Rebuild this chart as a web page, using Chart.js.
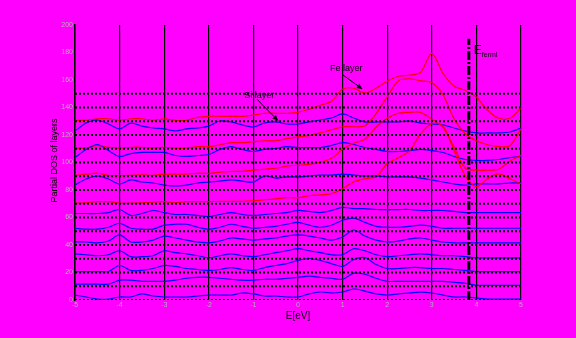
<!DOCTYPE html>
<html>
<head>
<meta charset="utf-8">
<script src="https://cdn.jsdelivr.net/npm/chart.js@4.4.1/dist/chart.umd.min.js"></script>
<style>
  html, body { margin: 0; padding: 0; background: #ff00ff; }
</style>
</head>
<body>
<canvas id="dosChart" width="576" height="338"></canvas>
<script>
// energy grid (eV)
const energy = [-5, -4.75, -4.5, -4.25, -4, -3.75, -3.5, -3.25, -3, -2.75, -2.5, -2.25, -2, -1.75, -1.5, -1.25,
  -1, -0.75, -0.5, -0.25, 0, 0.25, 0.5, 0.75, 1, 1.25, 1.5, 1.75, 2, 2.25, 2.5, 2.75, 3, 3.25, 3.5, 3.75,
  4, 4.25, 4.5, 4.75, 5];

// baseline of every layer (dotted lines)
const baselines = [0, 10, 20, 30, 40, 50, 60, 70, 80, 90, 100, 110, 120, 130, 140, 150];

const yTicks = [0, 20, 40, 60, 80, 100, 120, 140, 160, 180, 200];
const xTicks = [-5, -4, -3, -2, -1, 0, 1, 2, 3, 4, 5];

const eFermi = 3.83;
const fermiTop = 190;

// partial DOS of each layer, above its own baseline
const layer0 = [3.6, 2.2, 0.7, 0.7, 2.2, 2.2, 4.4, 2.9, 2.2, 2.2, 2.2, 2.9, 3.6, 3.6, 3.6, 5.1, 4.4, 2.9, 2.9, 2.2,
  2.2, 4.4, 5.8, 5.1, 5.8, 8.0, 6.5, 4.4, 3.6, 4.4, 5.1, 5.8, 5.1, 3.6, 2.2, 2.2, 1.5, 0.7, 0.7, 0.7, 0.7];
const layer1 = [1.5, 1.5, 1.5, 1.5, 4.4, 4.4, 3.6, 3.6, 3.6, 4.4, 5.8, 6.5, 6.5, 5.8, 5.1, 4.4, 4.4, 5.1, 5.1, 5.8,
  6.5, 7.3, 6.5, 5.8, 5.1, 9.5, 8.7, 5.8, 3.6, 3.6, 3.6, 3.6, 3.6, 3.6, 2.9, 2.2, 0.7, 0.7, 0.7, 0.7, 0.7];
const layer2 = [0.7, 0.7, 0.7, 0.7, 5.1, 1.5, 1.5, 2.9, 5.1, 4.4, 2.9, 2.2, 1.5, 2.2, 3.6, 2.2, 1.5, 3.6, 5.1, 6.5,
  8.7, 10.2, 8.7, 6.5, 4.4, 9.5, 10.9, 5.8, 2.9, 2.9, 3.6, 3.6, 2.9, 2.9, 2.2, 1.5, 0.7, 0.7, 0.7, 0.7, 0.7];
const layer3 = [3.6, 2.9, 2.2, 2.9, 5.8, 1.5, 1.5, 2.2, 5.8, 4.4, 3.6, 2.2, 0.7, 2.2, 3.6, 2.2, 1.5, 2.9, 4.4, 5.8,
  7.3, 5.8, 4.4, 2.9, 2.9, 7.3, 5.8, 2.9, 1.5, 2.2, 2.9, 3.6, 2.9, 2.2, 2.2, 1.5, 0.7, 0.7, 0.7, 0.7, 0.7];
const layer4 = [2.2, 2.2, 1.5, 2.9, 7.3, 2.2, 2.2, 3.6, 6.5, 5.1, 3.6, 2.2, 1.5, 2.9, 5.1, 4.4, 3.6, 4.4, 5.1, 6.5,
  7.3, 6.5, 5.1, 3.6, 5.8, 10.9, 6.5, 3.6, 2.2, 2.9, 4.4, 5.1, 3.6, 2.2, 1.5, 1.5, 1.5, 1.5, 1.5, 1.5, 1.5];
const layer5 = [2.2, 1.5, 1.5, 2.9, 5.8, 2.2, 1.5, 1.5, 4.4, 5.1, 5.1, 2.9, 1.5, 2.9, 5.1, 3.6, 2.2, 2.9, 3.6, 5.1,
  6.5, 4.4, 2.9, 4.4, 8.0, 9.5, 6.5, 3.6, 2.9, 2.9, 3.6, 4.4, 3.6, 2.2, 2.2, 2.2, 2.2, 2.2, 2.2, 2.2, 2.2];
const layer6 = [2.9, 2.9, 2.9, 3.6, 5.8, 1.5, 2.9, 5.1, 3.6, 2.2, 2.2, 1.5, 0.7, 2.2, 3.6, 2.2, 1.5, 2.2, 2.9, 3.6,
  5.1, 4.4, 3.6, 5.1, 7.3, 6.5, 6.5, 5.8, 5.8, 5.8, 5.8, 5.1, 5.1, 5.1, 4.4, 3.6, 3.6, 3.6, 3.6, 3.6, 3.6];
const layer7 = [0.4, 0.7, 1.5, 1.5, 0.4, 0.4, 0.7, 1.1, 1.5, 0.7, 1.5, 1.5, 1.5, 1.8, 1.8, 1.8, 2.2, 2.9, 3.6, 4.4,
  4.4, 5.8, 6.5, 7.3, 10.9, 16.0, 18.2, 19.6, 29.1, 33.5, 38.5, 50.9, 58.2, 56.7, 38.5, 20.4, 12.4, 18.2, 21.8, 18.2, 14.5];
const layer8 = [3.6, 8.0, 10.2, 8.0, 4.4, 7.3, 5.8, 5.1, 3.6, 2.9, 3.6, 5.1, 5.8, 6.5, 7.3, 6.5, 5.8, 10.2, 8.7, 9.5,
  9.5, 10.2, 10.9, 10.9, 11.6, 10.9, 10.2, 10.2, 9.5, 9.5, 9.5, 8.7, 7.3, 5.8, 4.4, 3.6, 4.4, 4.4, 4.4, 5.1, 5.1];
const layer9 = [0.7, 1.5, 2.2, 0.7, 0.4, 0.7, 1.1, 0.7, 1.5, 1.5, 1.5, 2.2, 2.2, 2.9, 3.6, 3.6, 4.4, 5.1, 5.8, 7.3,
  8.0, 8.7, 10.2, 13.1, 19.6, 24.0, 26.9, 35.6, 42.2, 45.8, 46.5, 46.5, 41.5, 35.6, 21.1, 5.8, 4.4, 4.4, 5.1, 10.9, 15.3];
const layer10 = [3.6, 9.5, 13.1, 8.7, 4.4, 6.5, 7.3, 7.3, 7.3, 5.1, 4.4, 5.1, 5.8, 9.5, 11.6, 9.5, 8.0, 9.5, 10.2, 11.6,
  10.9, 10.9, 10.9, 12.4, 14.5, 13.1, 10.9, 9.5, 8.0, 8.0, 8.7, 9.5, 8.7, 7.3, 4.4, 2.2, 1.5, 1.5, 2.2, 3.6, 4.4];
const layer11 = [0.4, 0.7, 2.2, 1.1, 0.4, 1.1, 1.1, 0.4, 1.1, 0.4, 0.4, 1.5, 1.5, 2.9, 4.4, 4.4, 5.1, 5.8, 5.8, 7.3,
  8.7, 9.5, 11.6, 13.8, 16.0, 16.0, 16.7, 25.5, 37.8, 49.4, 50.9, 49.4, 48.0, 39.3, 21.8, 10.9, 5.8, 2.9, 1.5, 2.2, 14.5];
const layer12 = [2.9, 8.7, 10.9, 8.0, 4.4, 8.7, 6.5, 5.1, 4.4, 2.9, 4.4, 5.1, 6.5, 10.2, 9.5, 7.3, 5.8, 8.7, 9.5, 8.0,
  8.0, 9.5, 10.9, 12.4, 15.3, 12.4, 9.5, 9.5, 9.5, 9.5, 10.2, 8.7, 8.0, 7.3, 5.1, 2.9, 1.5, 1.5, 1.5, 2.2, 5.1];
const layer13 = [0.7, 0.7, 1.8, 1.8, 0.7, 1.8, 1.8, 0.7, 1.8, 0.7, 0.7, 2.9, 3.6, 3.6, 3.6, 3.6, 4.4, 5.8, 5.8, 5.8,
  6.5, 8.7, 11.6, 14.5, 23.3, 24.0, 20.4, 24.0, 29.1, 32.7, 33.5, 35.6, 49.4, 34.9, 25.5, 22.5, 17.5, 8.0, 2.2, 2.2, 9.5];

const siColor = "#0000ff";
const feColor = "#ff0000";

const layers = [
  { dos: layer0, base: 0, color: siColor },
  { dos: layer1, base: 10, color: siColor },
  { dos: layer2, base: 20, color: siColor },
  { dos: layer3, base: 30, color: siColor },
  { dos: layer4, base: 40, color: siColor },
  { dos: layer5, base: 50, color: siColor },
  { dos: layer6, base: 60, color: siColor },
  { dos: layer7, base: 70, color: feColor },
  { dos: layer8, base: 80, color: siColor },
  { dos: layer9, base: 90, color: feColor },
  { dos: layer10, base: 100, color: siColor },
  { dos: layer11, base: 110, color: feColor },
  { dos: layer12, base: 120, color: siColor },
  { dos: layer13, base: 130, color: feColor },
];

const datasets = [];

// fermi level, dash-dot
datasets.push({
  data: [{ x: eFermi, y: 0 }, { x: eFermi, y: fermiTop }],
  borderColor: "#000",
  borderWidth: 3,
  borderDash: [9, 2, 2, 2],
  pointRadius: 0,
});

baselines.forEach((b) => {
  datasets.push({
    data: [{ x: energy[0], y: b }, { x: energy[energy.length - 1], y: b }],
    borderColor: "#000",
    borderWidth: 2,
    borderDash: [2, 2],
    pointRadius: 0,
  });
});

layers.forEach((l) => {
  datasets.push({
    data: energy.map((e, i) => ({ x: e, y: l.base + l.dos[i] })),
    borderColor: l.color,
    borderWidth: 1.2,
    pointRadius: 0,
    tension: 0.3,
  });
});

const FONT = "'Liberation Sans', Arial, sans-serif";

function arrow(ctx, x1, y1, x2, y2) {
  ctx.beginPath();
  ctx.moveTo(x1, y1);
  ctx.lineTo(x2, y2);
  ctx.stroke();
  const a = Math.atan2(y2 - y1, x2 - x1);
  ctx.beginPath();
  ctx.moveTo(x2, y2);
  ctx.lineTo(x2 - 6 * Math.cos(a - 0.45), y2 - 6 * Math.sin(a - 0.45));
  ctx.lineTo(x2 - 6 * Math.cos(a + 0.45), y2 - 6 * Math.sin(a + 0.45));
  ctx.closePath();
  ctx.fill();
}

const decorations = {
  id: "decorations",
  beforeDraw(chart) {
    const ctx = chart.ctx;
    ctx.save();
    ctx.fillStyle = "#ff00ff";
    ctx.fillRect(0, 0, chart.width, chart.height);
    ctx.restore();
  },
  afterDraw(chart) {
    const { ctx, chartArea, scales } = chart;
    const x = scales.x, y = scales.y;
    ctx.save();
    ctx.fillStyle = "#000";
    ctx.strokeStyle = "#000";
    ctx.lineWidth = 1;

    // axis titles
    ctx.font = "10px " + FONT;
    ctx.textAlign = "center";
    ctx.textBaseline = "middle";
    ctx.fillText("E[eV]", (chartArea.left + chartArea.right) / 2, chartArea.bottom + 16);
    ctx.save();
    ctx.translate(55, (chartArea.top + chartArea.bottom) / 2 - 2);
    ctx.rotate(-Math.PI / 2);
    ctx.font = "9px " + FONT;
    ctx.fillText("Partial DOS of layers", 0, 0);
    ctx.restore();

    // layer labels
    ctx.font = "9px " + FONT;
    ctx.fillText("Fe layer", x.getPixelForValue(1.08), y.getPixelForValue(168));
    arrow(ctx, x.getPixelForValue(1.01), y.getPixelForValue(163.6), x.getPixelForValue(1.44), y.getPixelForValue(153.5));
    ctx.fillText("Si layer", x.getPixelForValue(-0.87), y.getPixelForValue(149));
    arrow(ctx, x.getPixelForValue(-0.92), y.getPixelForValue(146), x.getPixelForValue(-0.45), y.getPixelForValue(130.5));

    // fermi label
    const fx = x.getPixelForValue(eFermi);
    const fy = y.getPixelForValue(fermiTop);
    ctx.textAlign = "left";
    ctx.textBaseline = "alphabetic";
    ctx.font = "12px " + FONT;
    ctx.fillText("E", fx + 5, fy + 15);
    ctx.font = "7px " + FONT;
    ctx.fillText("fermi", fx + 13, fy + 18);
    ctx.restore();
  },
};

new Chart(document.getElementById("dosChart"), {
  type: "line",
  data: { datasets: datasets },
  plugins: [decorations],
  options: {
    responsive: false,
    animation: false,
    layout: { padding: { left: 0, right: 55, top: 25, bottom: 0 } },
    plugins: { legend: { display: false }, tooltip: { enabled: false } },
    scales: {
      x: {
        type: "linear",
        min: -5,
        max: 5,
        afterBuildTicks: (s) => { s.ticks = xTicks.map((v) => ({ value: v })); },
        ticks: { color: "#b0b0b0", font: { size: 7, family: FONT }, padding: 1 },
        grid: { color: "#000", lineWidth: 1.2, drawTicks: false },
        border: { display: false },
        afterFit: (s) => { s.height = 38; },
      },
      y: {
        min: 0,
        max: 200,
        afterBuildTicks: (s) => { s.ticks = yTicks.map((v) => ({ value: v })); },
        ticks: { color: "#b0b0b0", font: { size: 7, family: FONT }, padding: 2 },
        grid: { display: false, drawTicks: false },
        border: { display: true, color: "#000", width: 1.5 },
        afterFit: (s) => { s.width = 75; },
      },
    },
  },
});
</script>
</body>
</html>
